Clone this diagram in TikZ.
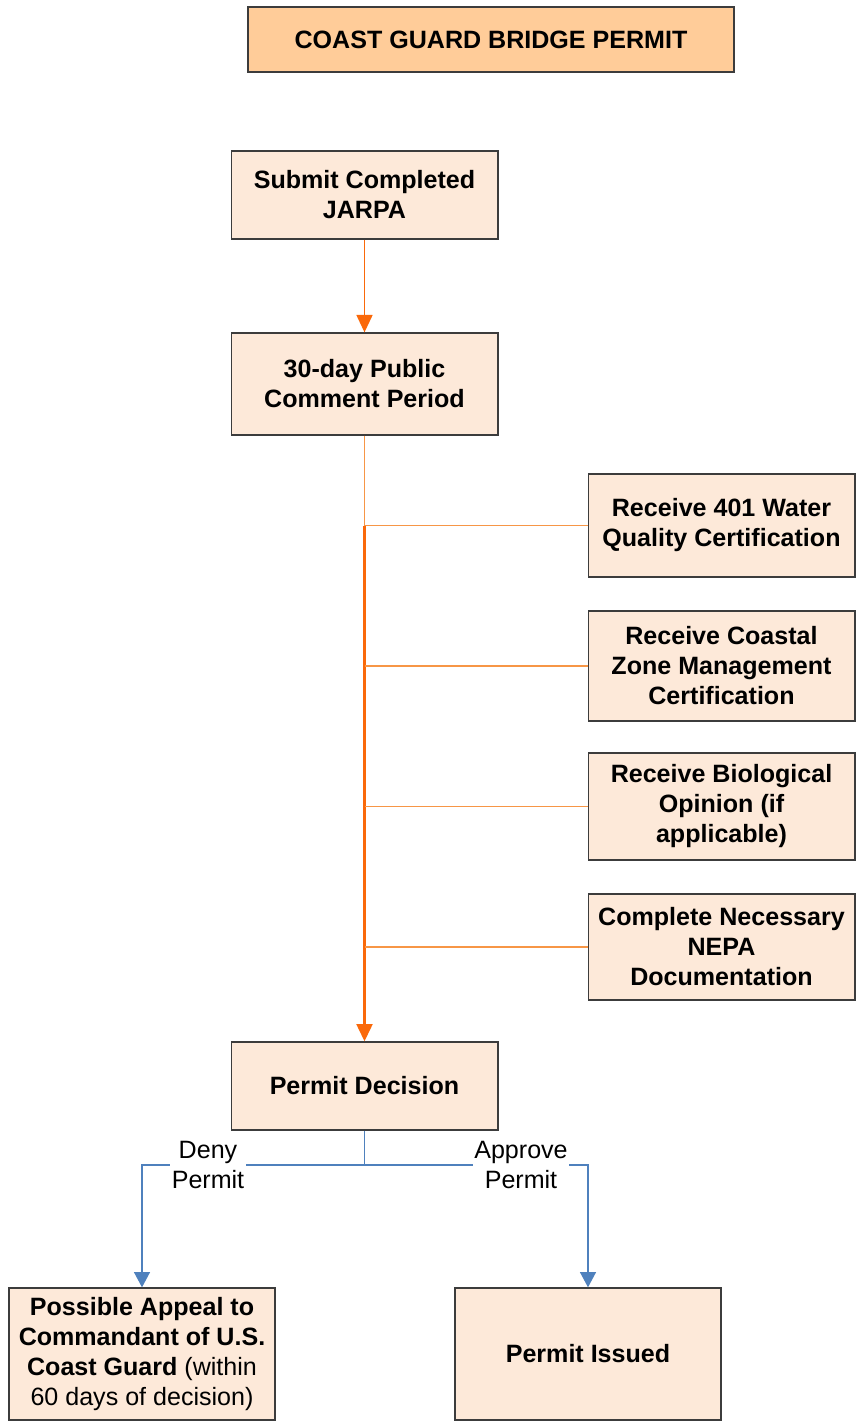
\documentclass[tikz,border=0pt]{standalone}
\usepackage{fontspec}
\setmainfont{Liberation Sans}
\usetikzlibrary{arrows.meta}

\definecolor{peach}{RGB}{253,233,217}
\definecolor{titlepeach}{RGB}{255,204,153}
\definecolor{boxgray}{RGB}{60,60,60}
\definecolor{flowlight}{RGB}{247,150,70}
\definecolor{flowdark}{RGB}{250,105,10}
\definecolor{decblue}{RGB}{79,129,189}

\tikzset{every picture/.style={line width=0.75pt}}
\tikzset{
  stepbox/.style={draw=boxgray, fill=peach, line width=1pt, align=center,
    minimum width=200pt, font=\fontsize{18.8}{22.5}\selectfont\bfseries},
  flowline/.style={draw=flowlight, line width=1.1pt},
  decline/.style={draw=decblue, line width=1.1pt},
  branchlabel/.style={fill=white, align=center, inner sep=1pt,
    font=\fontsize{18.8}{22.5}\selectfont}
}

\begin{document}
\begin{tikzpicture}[x=0.75pt,y=0.75pt,yscale=-1,xscale=1]
\useasboundingbox (0,0) rectangle (858,1426);

% Title
\node [stepbox, fill=titlepeach, minimum width=364.5pt, minimum height=48.75pt] (title) at (491,39.5) {COAST GUARD BRIDGE PERMIT};

% Main steps
\node [stepbox, minimum height=66pt] (submit) at (364.5,195) {Submit Completed\\JARPA};
\node [stepbox, minimum height=76.5pt] (comment) at (364.5,384) {30-day Public\\Comment Period};

% Side steps
\node [stepbox, minimum height=77.25pt] (wqc) at (721.5,525.5) {Receive 401 Water\\Quality Certification};
\node [stepbox, minimum height=82.5pt] (czm) at (721.5,666) {Receive Coastal\\Zone Management\\Certification};
\node [stepbox, minimum height=80.25pt] (bio) at (721.5,806.5) {Receive Biological\\Opinion (if\\applicable)};
\node [stepbox, minimum height=79.5pt] (nepa) at (721.5,947) {Complete Necessary\\NEPA\\Documentation};

% Decision and outcomes
\node [stepbox, minimum height=66pt] (decision) at (364.5,1086) {Permit Decision};
\node [stepbox, minimum width=199.5pt, minimum height=99pt] (appeal) at (142,1354) {Possible Appeal to\\Commandant of U.S.\\Coast Guard \mdseries(within\\\mdseries 60 days of decision)};
\node [stepbox, minimum width=199.5pt, minimum height=99pt] (issued) at (588,1354) {Permit Issued};

% Orange flow
\draw [flowline, draw=flowdark, -{Triangle[width=12pt,length=13pt]}] (submit) -- (comment);
\draw [flowline] (comment) -- (comment.south |- wqc.west);
\draw [flowline, draw=flowdark, line width=1.7pt, -{Triangle[width=12pt,length=13pt]}] (comment.south |- wqc.west) -- (decision);
\foreach \n in {wqc,czm,bio,nepa}
  \draw [flowline] (\n.west) -- (\n.west -| comment.south);

% Blue branches
\coordinate (split) at (364.5,1165);
\draw [decline] (decision) -- (split);
\draw [decline, -{Triangle[width=12pt,length=11.5pt]}] (split) -| (appeal);
\draw [decline, -{Triangle[width=12pt,length=11.5pt]}] (split) -| (issued);
\node [branchlabel] (deny) at (208,1165) {Deny\\Permit};
\node [branchlabel] (approve) at (521,1165) {Approve\\Permit};

\end{tikzpicture}
\end{document}
